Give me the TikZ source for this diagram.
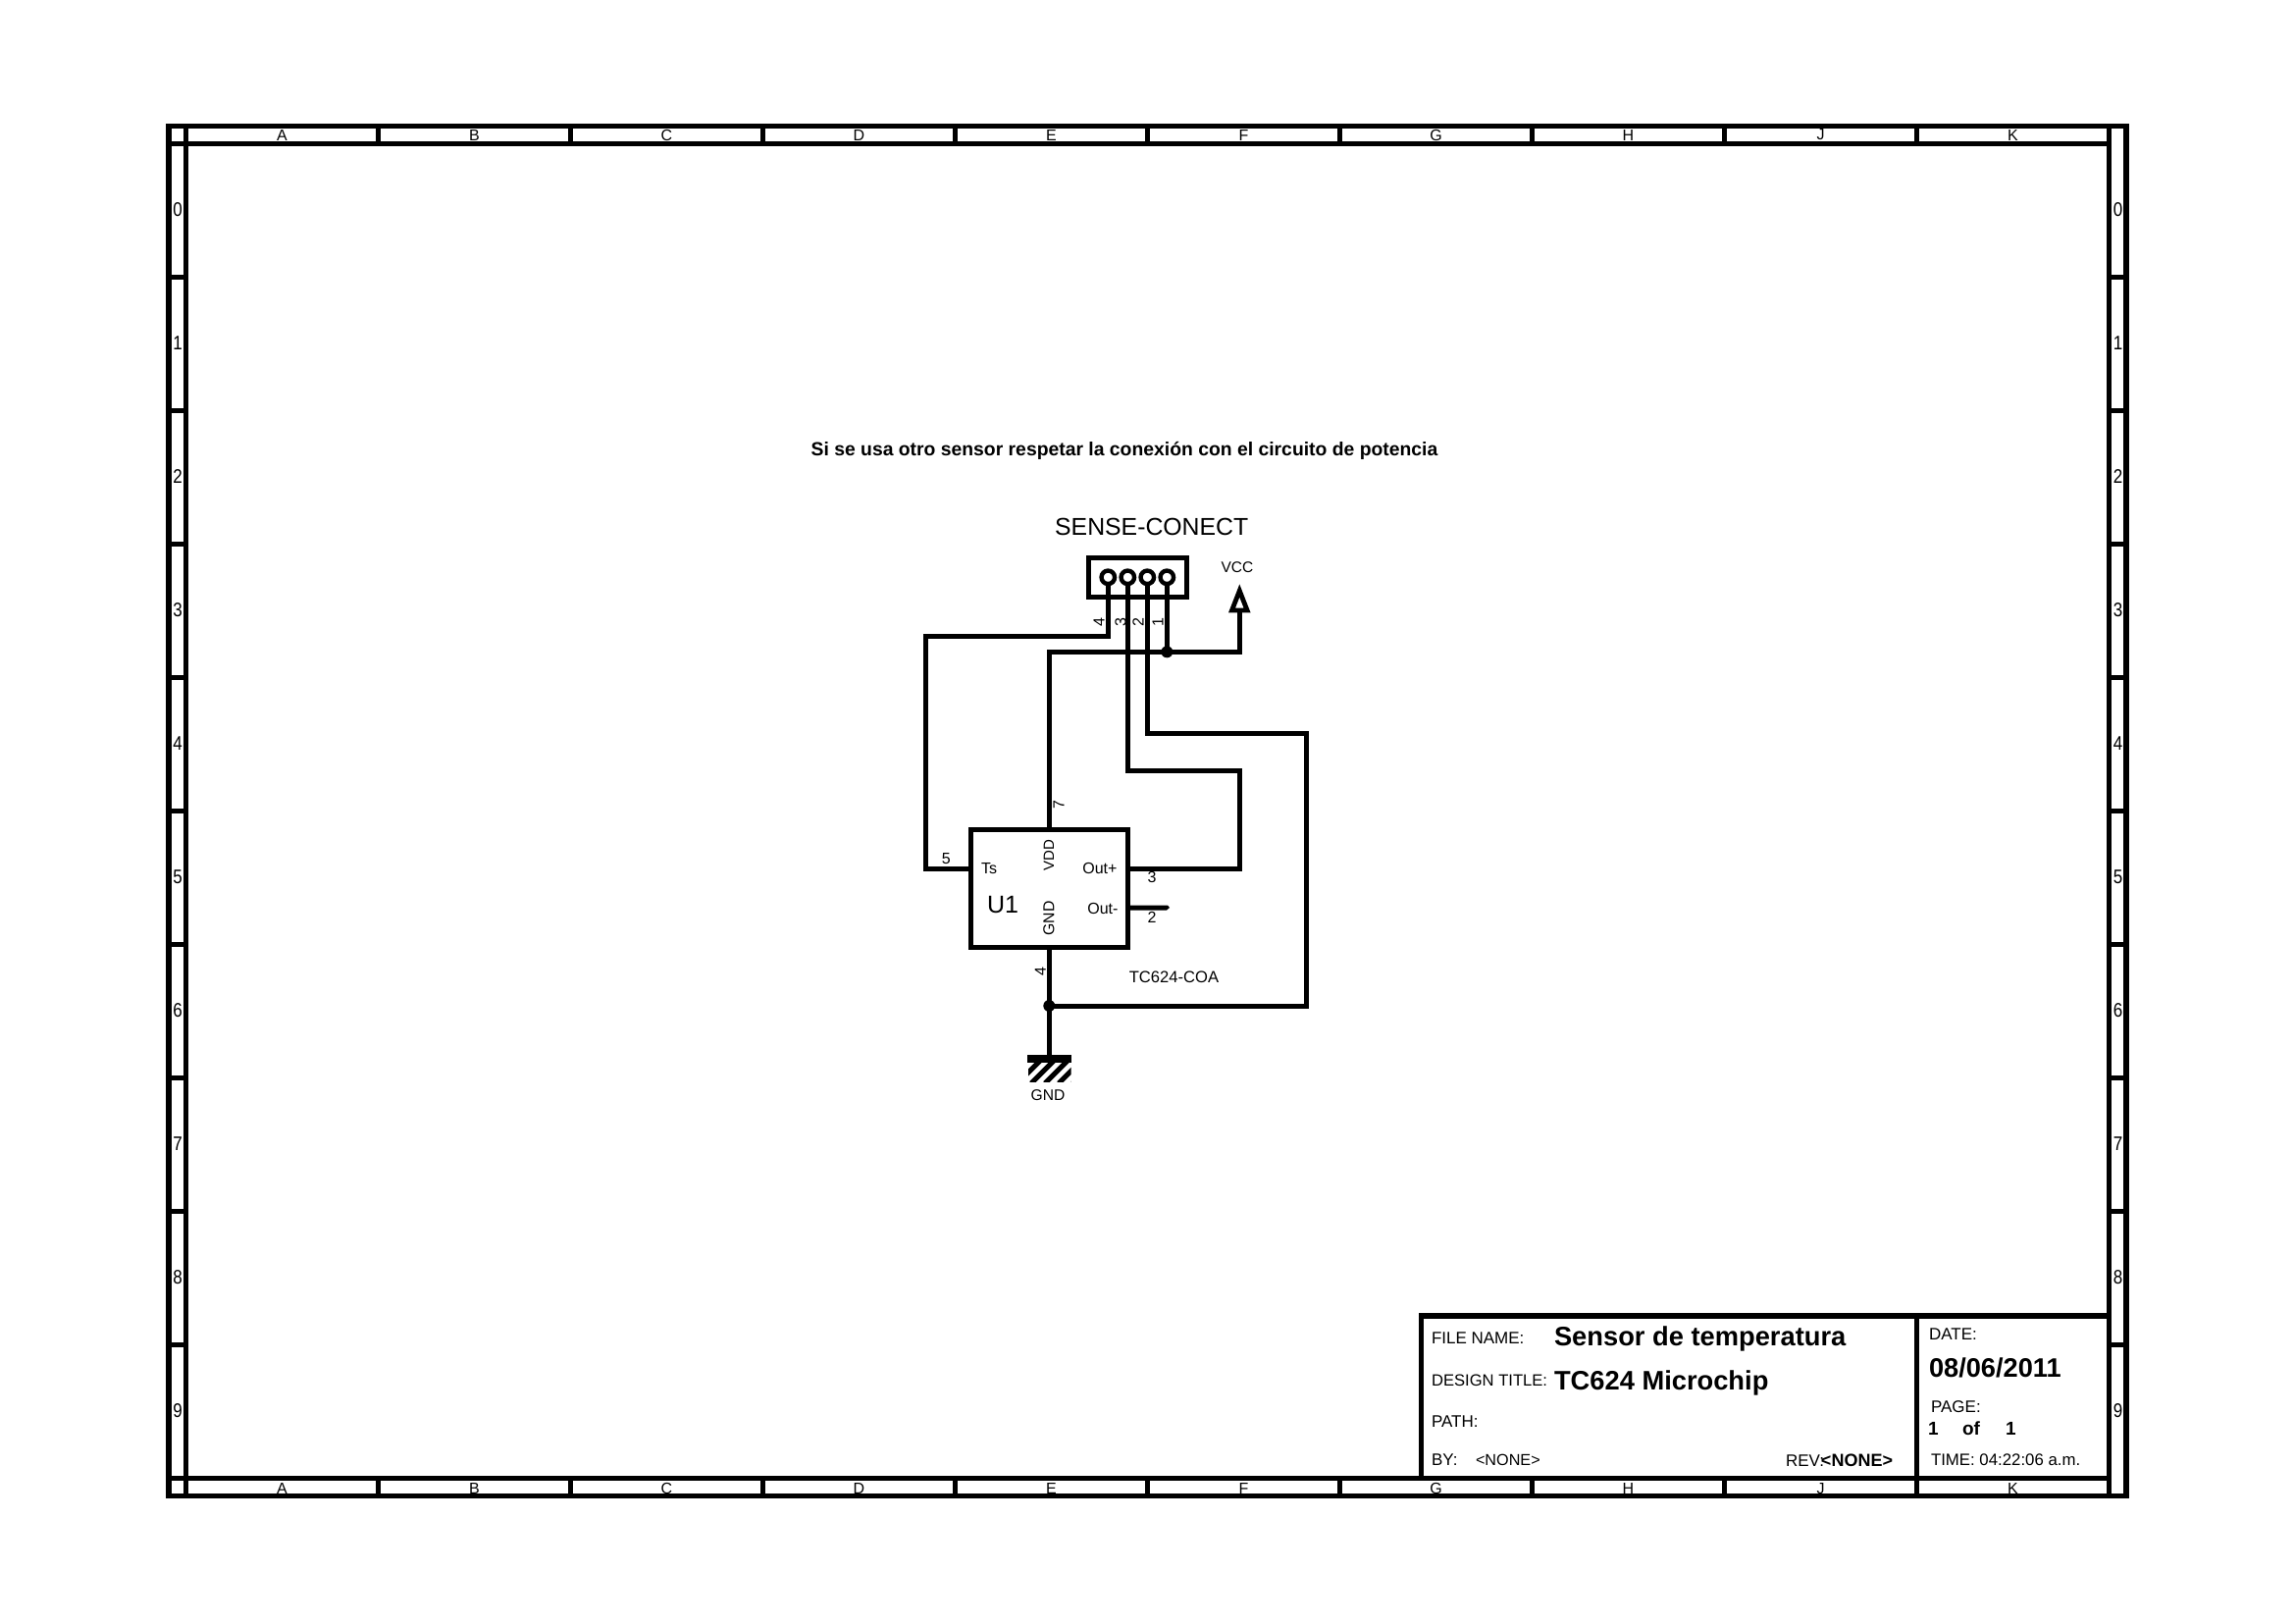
\documentclass[tikz,border=0pt]{standalone}
\usepackage{fontspec}
\setmainfont{Liberation Sans}
\newcommand{\fs}[1]{\fontsize{#1}{#1}\selectfont}
\tikzset{
  frameline/.style={line width=5.4pt,line cap=butt},
  wire/.style={line width=5pt,line join=miter,line cap=rect},
  tick/.style={line width=5.4pt},
  lab/.style={inner sep=0pt,outer sep=0pt,text=black},
  rimlab/.style={lab,font=\fs{16}},
  sidelab/.style={lab,font=\fs{20},xscale=.85},
  small/.style={lab,font=\fs{16}},
  tb/.style={lab,anchor=west,font=\fs{17}},
  tbb/.style={lab,anchor=west,font=\fs{27.3}\bfseries},
  pin/.style={circle,draw=black,fill=white,line width=4.4pt,minimum size=13.5pt,inner sep=0pt},
  dot/.style={circle,fill=black,minimum size=12pt,inner sep=0pt},
  box/.style={draw=black,line width=5pt,fill=none,inner sep=0pt}
}
\begin{document}
\begin{tikzpicture}[x=1pt,y=-1pt]
\useasboundingbox (0,0) rectangle (2339,1654);
% frame
\draw[frameline] (172,128.5) rectangle (2167,1524.5);
\draw[frameline] (189.5,146.5) rectangle (2149.5,1506.5);
\foreach \i in {1,...,9}{
  \draw[tick] ({189.5+196*\i},128.5) -- ({189.5+196*\i},146.5);
  \draw[tick] ({189.5+196*\i},1506.5) -- ({189.5+196*\i},1524.5);
  \draw[tick] (172,{146.5+136*\i}) -- (189.5,{146.5+136*\i});
  \draw[tick] (2149.5,{146.5+136*\i}) -- (2167,{146.5+136*\i});
}
\draw[tick] (172,146.5) -- (189.5,146.5) (172,1506.5) -- (189.5,1506.5);
\draw[tick] (189.5,128.5) -- (189.5,146.5) (189.5,1506.5) -- (189.5,1524.5);
\draw[tick] (2149.5,128.5) -- (2149.5,146.5) (2149.5,1506.5) -- (2149.5,1524.5);
\foreach \l [count=\n from 0] in {A,B,C,D,E,F,G,H,J,K}{
  \node[rimlab] (top\n) at ({287.5+196*\n},137.5) {\l};
  \node[rimlab] (bot\n) at ({287.5+196*\n},1517) {\l};
}
\foreach \n in {0,...,9}{
  \node[sidelab] (lft\n) at (181,{214*1+136*\n}) {\n};
  \node[sidelab] (rgt\n) at (2158.5,{214*1+136*\n}) {\n};
}
% title block
\draw[frameline] (1448.5,1506.5) -- (1448.5,1341) -- (2149.5,1341);
\draw[frameline] (1953.5,1341) -- (1953.5,1506.5);
\node[tb] (fn) at (1459,1363.5) {FILE NAME:};
\node[tbb] (fnv) at (1584,1364) {Sensor de temperatura};
\node[tb,font=\fs{16.6}] (dt) at (1459,1406.5) {DESIGN TITLE:};
\node[tbb] (dtv) at (1584,1409) {TC624 Microchip};
\node[tb] (pth) at (1459,1448.5) {PATH:};
\node[tb] (by) at (1459,1487.5) {BY:};
\node[tb,font=\fs{16.2}] (byv) at (1504,1487.5) {<NONE>};
\node[tb] (rev) at (1820,1488.5) {REV:};
\node[lab,anchor=east,font=\fs{18}\bfseries] (revv) at (1929,1488.5) {<NONE>};
\node[tb] (dl) at (1966,1360) {DATE:};
\node[tbb,font=\fs{27.2}\bfseries] (dv) at (1966,1394) {08/06/2011};
\node[tb] (pg) at (1968,1433.5) {PAGE:};
\node[lab,font=\fs{19}\bfseries,anchor=west] (p1) at (1965,1456) {1};
\node[lab,font=\fs{19}\bfseries,anchor=west] (pof) at (2000,1456) {of};
\node[lab,font=\fs{19}\bfseries,anchor=west] (p2) at (2044,1456) {1};
\node[lab,font=\fs{16.8},anchor=west] (tm) at (1968,1488) {TIME: 04:22:06 a.m.};
% note
\node[lab,font=\fs{19.35}\bfseries] (note) at (1146,459) {Si se usa otro sensor respetar la conexión con el circuito de potencia};
% connector
\node[lab,font=\fs{24.8}] (cname) at (1173.7,537) {SENSE-CONECT};
\node[lab,font=\fs{15.5}] (vcc) at (1261,578.5) {VCC};
\node[box,minimum width=100.4pt,minimum height=40pt] (conn) at (1159.5,588.3) {};
\coordinate (p4) at (1129.3,588.3);
\coordinate (p3) at (1149.3,588.3);
\coordinate (p2c) at (1169.3,588.3);
\coordinate (p1c) at (1189.3,588.3);
% chip
\node[box,minimum width=160pt,minimum height=120pt] (chip) at (1069.3,905) {};
\coordinate (ts) at (chip.west |- 0,885);
\coordinate (outp) at (chip.east |- 0,885);
\coordinate (outm) at (chip.east |- 0,925);
\coordinate (vdd) at (chip.north);
\coordinate (gnd) at (chip.south);
% nets
\coordinate (vccj) at (1189.3,664.3);
\coordinate (vcct) at (1263.3,622);
\coordinate (gndj) at (1069.3,1025);
\coordinate (gndb) at (1069.3,1077);
\draw[wire] (p4) -- (1129.3,648.3) -- (943.3,648.3) -- (943.3,885) -- (ts);
\draw[wire] (vdd) -- (1069.3,664.3) -- (1263.3,664.3) -- (vcct);
\draw[wire] (p1c) -- (vccj);
\draw[wire] (p3) -- (1149.3,785) -- (1263.3,785) -- (1263.3,885) -- (outp);
\draw[wire] (p2c) -- (1169.3,747) -- (1331.7,747) -- (1331.7,1025) -- (gndj);
\draw[wire] (gnd) -- (gndb);
\fill[black] (outm) ++(0,-2.5) -- (1190,922.5) -- (1192,925) -- (1189,927.5) -- (1149.3,927.5) -- cycle;
\node[dot] (jv) at (vccj) {};
\node[dot] (jg) at (gndj) {};
\node[pin] (pin4) at (p4) {};
\node[pin] (pin3) at (p3) {};
\node[pin] (pin2) at (p2c) {};
\node[pin] (pin1) at (p1c) {};
% vcc arrow
\draw[line width=4.8pt,fill=white,line join=miter] (1263.3,602) -- (1255.5,622) -- (1271.1,622) -- cycle;
% ground
\fill[black] (1047.3,1075) rectangle (1091.7,1082.7);
\begin{scope}
\clip (1048,1082.7) rectangle (1091.5,1102);
\foreach \x in {1037,1051,1065,1079,1093}{
  \draw[line width=5pt] (\x,1104) -- (\x+24,1080);
}
\end{scope}
\node[lab,font=\fs{15.6}] (gl) at (1068,1116.5) {GND};
% pin numbers
\node[small,rotate=90] (n4) at (1120,634) {4};
\node[small,rotate=90] (n3) at (1142,634) {3};
\node[small,rotate=90] (n2) at (1160,634) {2};
\node[small,rotate=90] (n1) at (1180,634) {1};
\node[small,rotate=90] (n7) at (1079,820) {7};
\node[small,rotate=90] (n4b) at (1060.3,990) {4};
\node[small] (n5) at (964.3,875) {5};
\node[small] (n3b) at (1174,893.5) {3};
\node[small] (n2b) at (1174,934.5) {2};
% chip labels
\node[small,anchor=west] (lts) at (1000,885) {Ts};
\node[small,anchor=east] (lop) at (1138.5,885) {Out+};
\node[small,anchor=east] (lom) at (1139.5,926) {Out-};
\node[small,rotate=90,font=\fs{15}] (lvdd) at (1069,871.7) {VDD};
\node[small,rotate=90,font=\fs{15.8}] (lgnd) at (1069,936) {GND};
\node[lab,font=\fs{25}] (u1) at (1022,922) {U1};
\node[lab,font=\fs{16.6}] (tc) at (1196.5,996) {TC624-COA};
\end{tikzpicture}
\end{document}
